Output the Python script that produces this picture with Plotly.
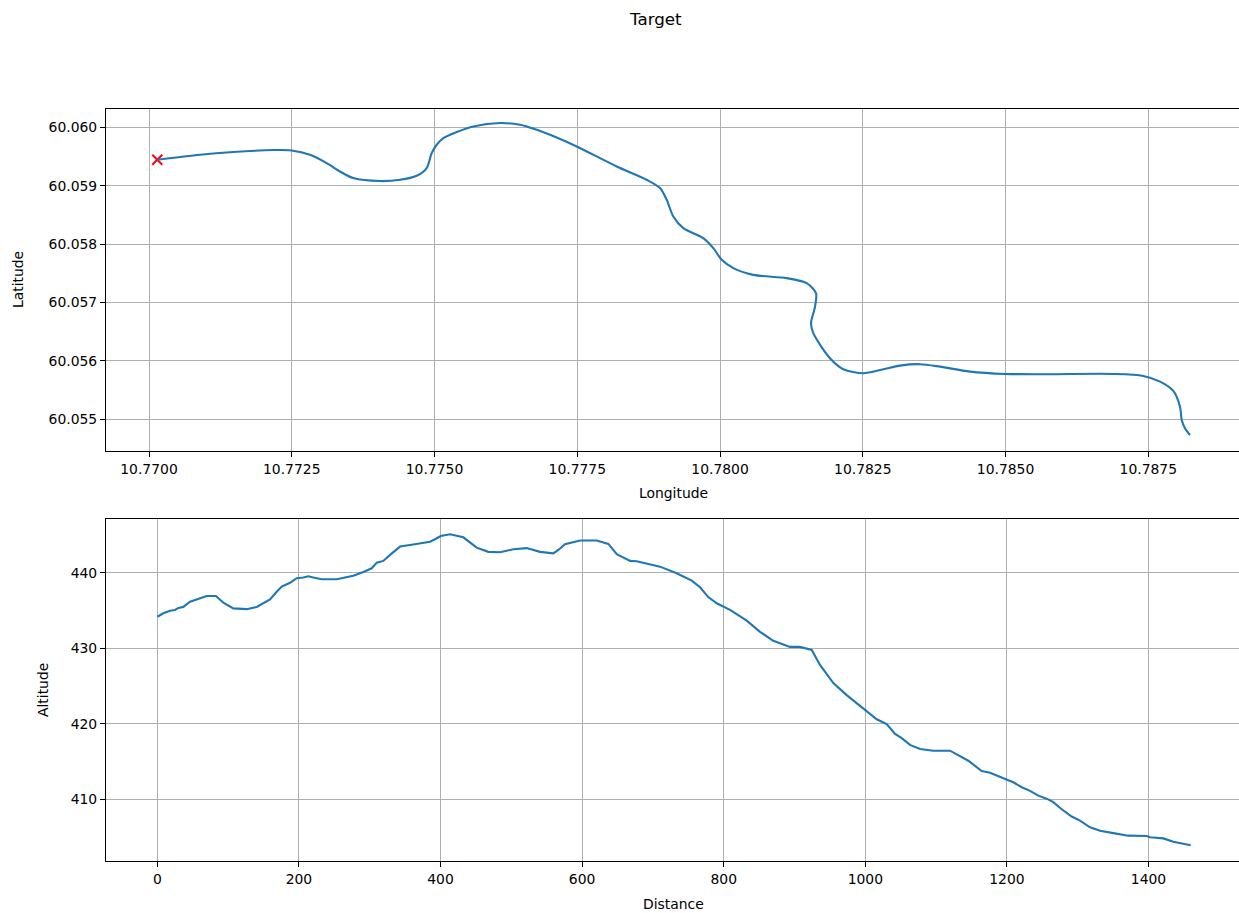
import plotly.graph_objects as go

# Track (top panel)
longitude = [10.770145, 10.770893, 10.771476, 10.772177, 10.772499, 10.772820, 10.773112, 10.773345,
             10.773578, 10.774046, 10.774396, 10.774688, 10.774863, 10.774951, 10.775039, 10.775154,
             10.775389, 10.775680, 10.776147, 10.776497, 10.776615, 10.777023, 10.777490, 10.778191,
             10.778716, 10.778949, 10.779067, 10.779182, 10.779357, 10.779708, 10.779883, 10.780030,
             10.780233, 10.780583, 10.781168, 10.781518, 10.781681, 10.781664, 10.781594, 10.781634,
             10.781926, 10.782159, 10.782510, 10.782860, 10.783152, 10.783503, 10.783853, 10.784378,
             10.784997, 10.785721, 10.786888, 10.787413, 10.787706, 10.787939, 10.788056, 10.788086,
             10.788143, 10.788231]
latitude = [60.059446, 60.059532, 60.059578, 60.059612, 60.059605, 60.059532, 60.059389, 60.059245,
            60.059132, 60.059081, 60.059103, 60.059172, 60.059304, 60.059561, 60.059703, 60.059818,
            60.059921, 60.060017, 60.060075, 60.060046, 60.060017, 60.059875, 60.059674, 60.059331,
            60.059103, 60.058961, 60.058760, 60.058473, 60.058274, 60.058103, 60.057931, 60.057731,
            60.057588, 60.057473, 60.057417, 60.057331, 60.057159, 60.056930, 60.056645, 60.056473,
            60.056044, 60.055856, 60.055787, 60.055856, 60.055918, 60.055942, 60.055900, 60.055815,
            60.055775, 60.055770, 60.055775, 60.055741, 60.055643, 60.055484, 60.055214, 60.054986,
            60.054844, 60.054729]

# Elevation profile (bottom panel)
distance = [0, 8.5, 17.9, 25, 29.7, 36.7, 46.2, 60.3, 69.8, 82.9, 93.2, 107.3, 126.3, 140.4, 149.7,
            159.2, 168.6, 175.7, 187.4, 196.9, 206.2, 213.3, 220.3, 232.2, 253.4, 267.5, 276.8, 291,
            302.8, 309.9, 319.2, 328.7, 342.8, 356.9, 371, 385.2, 392.2, 400.3, 413.4, 432.2, 451.1,
            467.5, 484, 502.8, 521.8, 540.5, 559.3, 566.4, 575.8, 597, 620.6, 637, 648.9, 667.7, 677.1,
            710, 733.6, 754.8, 766.5, 778.2, 790.1, 808.9, 832.5, 851.3, 870, 893.6, 907.8, 924.3,
            936, 954.8, 973.7, 999.6, 1016.1, 1030.2, 1042, 1051.4, 1063.1, 1077.3, 1096, 1119.6,
            1133.8, 1145.5, 1164.4, 1176.1, 1197.7, 1209, 1220.9, 1232.6, 1244.4, 1256.2, 1265.5,
            1277.4, 1291.5, 1303.2, 1317.4, 1331.5, 1350.3, 1371.5, 1397.5, 1402.1, 1420.9, 1435,
            1459.6]
altitude = [434.2, 434.65, 435.0, 435.1, 435.36, 435.5, 436.2, 436.64, 436.95, 436.95, 436.06, 435.3,
            435.2, 435.5, 436.0, 436.5, 437.5, 438.2, 438.7, 439.3, 439.4, 439.56, 439.4, 439.16,
            439.16, 439.5, 439.64, 440.13, 440.62, 441.37, 441.6, 442.4, 443.5, 443.7, 443.94, 444.15,
            444.47, 444.9, 445.13, 444.73, 443.36, 442.8, 442.75, 443.14, 443.3, 442.8, 442.6, 443.05,
            443.8, 444.3, 444.3, 443.85, 442.5, 441.6, 441.55, 440.84, 439.96, 438.98, 438.1, 436.8,
            435.98, 435.1, 433.67, 432.2, 431.0, 430.2, 430.2, 429.8, 427.8, 425.4, 423.8, 421.9,
            420.6, 419.95, 418.65, 418.1, 417.2, 416.65, 416.43, 416.43, 415.64, 415.1, 413.74, 413.5,
            412.68, 412.24, 411.58, 411.1, 410.47, 410.07, 409.6, 408.66, 407.7, 407.15, 406.27, 405.8,
            405.5, 405.16, 405.12, 404.95, 404.8, 404.36, 403.9]

BLUE = "#1f77b4"
FONT = "DejaVu Sans"

fig = go.Figure()
fig.add_trace(go.Scatter(x=[longitude[0]], y=[latitude[0]], mode="markers",
                         marker=dict(symbol="x-thin", size=10, color="red",
                                     line=dict(color="red", width=2)),
                         xaxis="x", yaxis="y", showlegend=False))
fig.add_trace(go.Scatter(x=longitude, y=latitude, mode="lines",
                         line=dict(color=BLUE, width=2.1, shape="spline", smoothing=0.8),
                         xaxis="x", yaxis="y", showlegend=False))
fig.add_trace(go.Scatter(x=distance, y=altitude, mode="lines",
                         line=dict(color=BLUE, width=2.1),
                         xaxis="x2", yaxis="y2", showlegend=False))

axis_common = dict(showgrid=True, gridcolor="#b0b0b0", gridwidth=1.1,
                   showline=True, linecolor="black", linewidth=1.1,
                   ticks="outside", ticklen=5, tickwidth=1.1, tickcolor="black",
                   zeroline=False, tickfont=dict(family=FONT, size=13.9, color="black"))

fig.update_layout(
    width=1239, height=913,
    margin=dict(l=106, r=0, t=109, b=52),
    plot_bgcolor="white", paper_bgcolor="white",
    font=dict(family=FONT, size=13.9, color="black"),
    xaxis=dict(domain=[0, 1], anchor="y", range=[10.769247, 10.789089],
               tick0=10.77, dtick=0.0025, tickformat=".4f", mirror=True, **axis_common),
    yaxis=dict(domain=[0.5452, 1.0], anchor="x", range=[60.054454, 60.060316],
               tick0=60.055, dtick=0.001, tickformat=".3f", **axis_common),
    xaxis2=dict(domain=[0, 1], anchor="y2", range=[-72.5, 1527.8],
                tick0=0, dtick=200, mirror=True, **axis_common),
    yaxis2=dict(domain=[0, 0.4544], anchor="x2", range=[401.8, 447.12],
                tick0=410, dtick=10, **axis_common),
    annotations=[
        dict(text="Target", x=655 / 1239, y=19, xref="paper", yref="paper",
             showarrow=False, font=dict(size=16.7, family=FONT)),
        dict(text="Longitude", x=(673 - 106) / 1133, y=(861 - 493) / 752, xref="paper", yref="paper",
             showarrow=False, xanchor="center", yanchor="middle"),
        dict(text="Latitude", x=(18 - 106) / 1133, y=(861 - 280) / 752, xref="paper", yref="paper",
             showarrow=False, textangle=-90, xanchor="center", yanchor="middle"),
        dict(text="Distance", x=(673 - 106) / 1133, y=(861 - 904) / 752, xref="paper", yref="paper",
             showarrow=False, xanchor="center", yanchor="middle"),
        dict(text="Altitude", x=(43 - 106) / 1133, y=(861 - 690) / 752, xref="paper", yref="paper",
             showarrow=False, textangle=-90, xanchor="center", yanchor="middle"),
    ],
)
# Title annotation placed in pixel-derived paper coords
fig.layout.annotations[0].update(x=(655 - 106) / 1133, y=(861 - 19) / 752, xanchor="center", yanchor="middle")

fig.write_html("out.html")
